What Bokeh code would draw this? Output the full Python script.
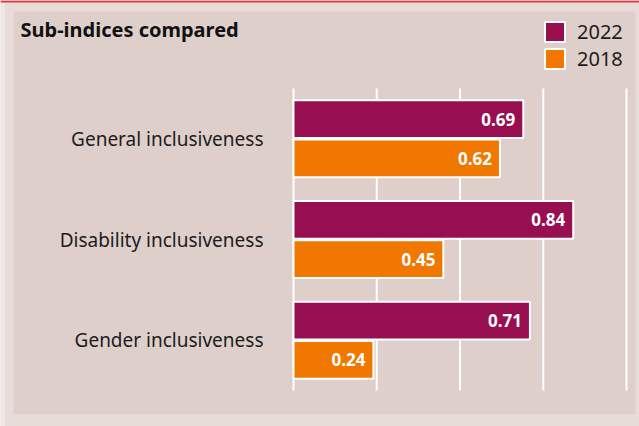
from bokeh.plotting import figure
from bokeh.models import (ColumnDataSource, Range1d, Label, Legend, LegendItem, BoxAnnotation)
from bokeh.core.properties import value
from bokeh.embed import file_html
from bokeh.resources import INLINE

# ---- data ----
categories = ["Gender inclusiveness", "Disability inclusiveness", "General inclusiveness"]  # bottom -> top
values_2022 = [0.71, 0.84, 0.69]
values_2018 = [0.24, 0.45, 0.62]
ticks = [0, 0.25, 0.5, 0.75, 1.0]
series_names = ["2022", "2018"]
title_text = "Sub-indices compared"

# ---- style / layout constants ----
W, H = 639, 426
C2022 = "#970f50"
C2018 = "#f07800"
PANEL = "#dfcfcb"
OUTER = "#e8dcd8"
STRIP = "#efe8e6"
RED = "#ee3338"
FONT = "Noto Sans"
X0_PX, X1_PX = 293, 626        # pixel position of value 0 and value 1
BAND_TOP_PX, BAND_BOT_PX = 88, 390
DODGE, BAR_H = 0.195, 0.375

n = len(categories)
xs = (X1_PX - X0_PX) / 1.0
ys = (BAND_BOT_PX - BAND_TOP_PX) / n
x_start, x_end = -X0_PX / xs, (W - X0_PX) / xs
y_start = -0.5 - (H - BAND_BOT_PX) / ys
y_end = (n - 0.5) + BAND_TOP_PX / ys

pos = list(range(n))
src = ColumnDataSource(dict(
    cat=categories,
    pos=pos,
    zero=[0] * n,
    y22=[p_ + DODGE for p_ in pos],
    y18=[p_ - DODGE for p_ in pos],
    v22=values_2022,
    v18=values_2018,
    l22=[f"{v:.2f}" for v in values_2022],
    l18=[f"{v:.2f}" for v in values_2018],
))
grid_src = ColumnDataSource(dict(x=ticks, y0=[-0.5] * len(ticks), y1=[n - 0.5] * len(ticks)))

p = figure(width=W, height=H, output_backend="svg", toolbar_location=None,
           x_range=Range1d(x_start, x_end), y_range=Range1d(y_start, y_end),
           x_axis_type=None, y_axis_type=None,
           min_border_left=0, min_border_right=0, min_border_top=0, min_border_bottom=0)
p.title = None
p.background_fill_color = OUTER
p.border_fill_color = OUTER
p.outline_line_color = None
p.grid.visible = False

def screen_box(l, r, b, t, color):
    return BoxAnnotation(left=l, right=r, bottom=b, top=t, left_units="screen", right_units="screen",
                         bottom_units="screen", top_units="screen", fill_color=color, fill_alpha=1,
                         line_color=None, level="image")

# background panel and decorations (screen units, bottom-up)
p.add_layout(screen_box(0, 4, 0, H, STRIP))
p.add_layout(screen_box(13, 635, H - 414, H - 11, PANEL))
p.add_layout(screen_box(0, W, H - 2, H, RED))

# vertical grid lines
p.segment(x0="x", x1="x", y0="y0", y1="y1", source=grid_src, line_color="white", line_width=2)

r22 = p.hbar(y="y22", right="v22", left=0, height=BAR_H, source=src,
             fill_color=C2022, line_color="white", line_width=2)
r18 = p.hbar(y="y18", right="v18", left=0, height=BAR_H, source=src,
             fill_color=C2018, line_color="white", line_width=2)

for col, lab, ycol in [("v22", "l22", "y22"), ("v18", "l18", "y18")]:
    p.text(x=col, y=ycol, text=lab, source=src,
           x_offset=-8, text_align="right", text_baseline="middle",
           text_color="white", text_font=value(FONT), text_font_style="bold",
           text_font_size="17px")

# category labels (left of the value axis origin)
p.text(x="zero", y="pos", text="cat", source=src, x_offset=-30,
       text_align="right", text_baseline="middle", text_color="#1c1c1c",
       text_font=value(FONT), text_font_size="19px")

legend = Legend(items=[LegendItem(label=series_names[0], renderers=[r22]),
                       LegendItem(label=series_names[1], renderers=[r18])],
                location=(542, H - 72), orientation="vertical",
                glyph_width=25, glyph_height=25, label_standoff=10, spacing=-2,
                padding=0, margin=0, background_fill_alpha=0, border_line_color=None,
                label_text_font=FONT, label_text_font_size="20px", label_text_color="#1c1c1c",
                label_height=20, label_text_baseline="middle")
p.add_layout(legend, "center")

p.add_layout(Label(x=20, y=H - 29, x_units="screen", y_units="screen", text=title_text,
                   text_font=FONT, text_font_style="bold", text_font_size="20px",
                   text_color="#111111", text_baseline="alphabetic"))

open("out.html", "w").write(file_html(p, INLINE))
